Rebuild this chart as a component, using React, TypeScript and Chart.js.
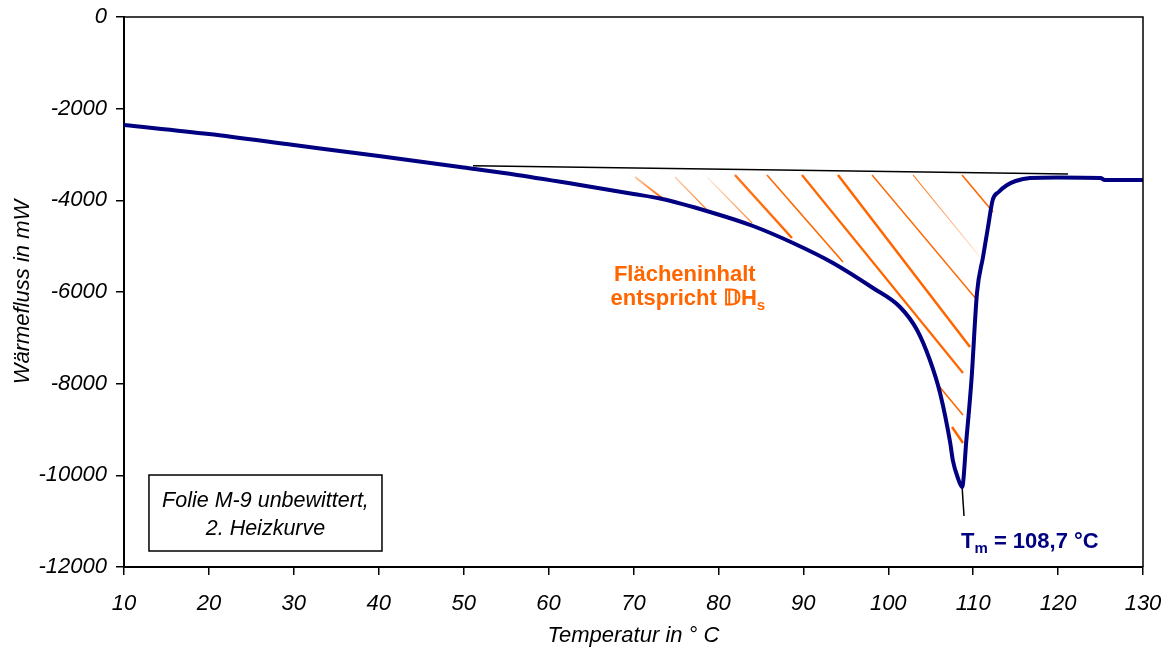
import React, { useEffect, useRef } from 'react';
import { Chart, registerables } from 'chart.js';

Chart.register(...registerables);

// DSC heating curve: temperature (°C) vs. heat flow (mW)
const temperature = [
  10, 20, 30, 40, 50, 56.3, 63.7, 70, 73.12, 79.01, 84.07, 88.78, 93.49, 98.2, 101.38,
  103.39, 104.9, 106.1, 107.3, 107.6, 108.2, 108.7, 109.2, 109.8, 110.45, 111.16,
  111.75, 112.3, 113, 114, 115, 116.7, 120, 125, 125.5, 130,
];
const heatFlow = [
  -2356, -2553, -2793, -3033, -3284, -3447, -3665, -3862, -3960, -4254, -4560,
  -4931, -5367, -5913, -6327, -6829, -7484, -8204, -9295, -9666, -10058, -10255,
  -9229, -7920, -6022, -5236, -4582, -3993, -3818, -3665, -3578, -3513, -3502,
  -3513, -3556, -3556,
];

// Interpolated baseline under the melting peak
const baselineT = [51.1, 121.17];
const baselineQ = [-3244, -3425];

// Leader from the peak minimum to the T_m label
const leaderT = [108.7, 108.92];
const leaderQ = [-10255, -10887];

// Hatch strokes filling the peak area (start/end in data units)
const hatchStartT = [70.18, 74.89, 78.66, 81.95, 85.72, 89.84, 94.08, 98.09, 102.92, 108.69, 105.86, 107.51];
const hatchStartQ = [-3491, -3491, -3491, -3447, -3447, -3447, -3447, -3447, -3447, -3447, -8029, -8945];
const hatchEndT = [73.36, 79.01, 83.96, 88.66, 94.67, 108.8, 109.63, 110.45, 110.8, 112.34, 108.8, 108.8];
const hatchEndQ = [-3949, -4276, -4495, -4822, -5345, -7767, -7200, -6174, -5236, -4255, -8684, -9295];

// Stroke look of each hatch line: [width, alpha at start, alpha at end]
const hatchLook: [number, number, number][] = [
  [2, 0.35, 1], [1.2, 0.35, 0.9], [1.2, 0.12, 0.8], [2.5, 0.9, 1], [1.6, 1, 1],
  [2.2, 1, 1], [2.5, 1, 1], [1.4, 1, 1], [1.1, 1, 0.15], [1.6, 1, 1],
  [1.6, 1, 1], [2.5, 1, 1],
];

const tempTicks = [10, 20, 30, 40, 50, 60, 70, 80, 90, 100, 110, 120, 130];
const flowTicks = [-12000, -10000, -8000, -6000, -4000, -2000, 0];

const FONT = "'Liberation Sans', Arial, Helvetica, sans-serif";
const NAVY = '#000080';
const ORANGE = '#FF6600';

const overlayPlugin = {
  id: 'dscOverlay',
  beforeDatasetsDraw(chart: any) {
    const { ctx, scales } = chart;
    const x = scales.x;
    const y = scales.y;
    ctx.save();
    ctx.lineCap = 'butt';
    for (let i = 0; i < hatchStartT.length; i++) {
      const x1 = x.getPixelForValue(hatchStartT[i]);
      const y1 = y.getPixelForValue(hatchStartQ[i]);
      const x2 = x.getPixelForValue(hatchEndT[i]);
      const y2 = y.getPixelForValue(hatchEndQ[i]);
      const [w, a1, a2] = hatchLook[i];
      const g = ctx.createLinearGradient(x1, y1, x2, y2);
      g.addColorStop(0, `rgba(255,102,0,${a1})`);
      g.addColorStop(1, `rgba(255,102,0,${a2})`);
      ctx.strokeStyle = g;
      ctx.lineWidth = w;
      ctx.beginPath();
      ctx.moveTo(x1, y1);
      ctx.lineTo(x2, y2);
      ctx.stroke();
    }
    ctx.restore();
  },
  afterDatasetsDraw(chart: any) {
    const { ctx, scales, chartArea } = chart;
    const x = scales.x;
    const y = scales.y;
    ctx.save();

    // frame around the plot
    ctx.strokeStyle = '#000';
    ctx.lineWidth = 1.5;
    ctx.beginPath();
    ctx.moveTo(chartArea.left, chartArea.top);
    ctx.lineTo(chartArea.right, chartArea.top);
    ctx.lineTo(chartArea.right, chartArea.bottom);
    ctx.stroke();

    // sample description box
    const bx1 = x.getPixelForValue(12.94);
    const bx2 = x.getPixelForValue(40.38);
    const by1 = y.getPixelForValue(-9993);
    const by2 = y.getPixelForValue(-11651);
    ctx.fillStyle = '#fff';
    ctx.fillRect(bx1, by1, bx2 - bx1, by2 - by1);
    ctx.lineWidth = 1.5;
    ctx.strokeRect(bx1, by1, bx2 - bx1, by2 - by1);
    ctx.fillStyle = '#000';
    ctx.font = `italic 21.5px ${FONT}`;
    ctx.textAlign = 'center';
    ctx.textBaseline = 'alphabetic';
    const bcx = (bx1 + bx2) / 2;
    ctx.fillText('Folie M-9 unbewittert,', bcx, y.getPixelForValue(-10698));
    ctx.fillText('2. Heizkurve', bcx, y.getPixelForValue(-11309));

    // area label
    ctx.fillStyle = ORANGE;
    ctx.font = `bold 22px ${FONT}`;
    ctx.textAlign = 'center';
    ctx.fillText('Flächeninhalt', x.getPixelForValue(76.04), y.getPixelForValue(-5760));
    const part1 = 'entspricht 𝔻H';
    const sub1 = 's';
    ctx.font = `bold 22px ${FONT}`;
    const w1 = ctx.measureText(part1).width;
    ctx.font = `bold 15px ${FONT}`;
    const ws = ctx.measureText(sub1).width;
    const c2 = x.getPixelForValue(76.4);
    const base2 = y.getPixelForValue(-6284);
    const sx = c2 - (w1 + ws) / 2;
    ctx.textAlign = 'left';
    ctx.font = `bold 22px ${FONT}`;
    ctx.fillText(part1, sx, base2);
    ctx.font = `bold 15px ${FONT}`;
    ctx.fillText(sub1, sx + w1, base2 + 5);

    // melting temperature label
    ctx.fillStyle = NAVY;
    let tx = x.getPixelForValue(108.57);
    const tb = y.getPixelForValue(-11585);
    ctx.font = `bold 22px ${FONT}`;
    ctx.fillText('T', tx, tb);
    tx += ctx.measureText('T').width;
    ctx.font = `bold 15px ${FONT}`;
    ctx.fillText('m', tx, tb + 5);
    tx += ctx.measureText('m').width;
    ctx.font = `bold 22px ${FONT}`;
    ctx.fillText(' = 108,7 °C', tx, tb);

    ctx.restore();
  },
};

export default function App() {
  const canvasRef = useRef<HTMLCanvasElement | null>(null);

  useEffect(() => {
    const canvas = canvasRef.current;
    if (!canvas) return;
    const pts = (xs: number[], ys: number[]) => xs.map((v, i) => ({ x: v, y: ys[i] }));

    const chart = new Chart(canvas, {
      type: 'line',
      data: {
        datasets: [
          {
            label: 'Basislinie',
            data: pts(baselineT, baselineQ),
            borderColor: '#000',
            borderWidth: 1.5,
            pointRadius: 0,
            tension: 0,
          },
          {
            label: 'Wärmefluss',
            data: pts(temperature, heatFlow),
            borderColor: NAVY,
            borderWidth: 4,
            pointRadius: 0,
            cubicInterpolationMode: 'monotone',
            borderJoinStyle: 'round',
          },
          {
            label: 'Tm',
            data: pts(leaderT, leaderQ),
            borderColor: '#000',
            borderWidth: 1.5,
            pointRadius: 0,
            tension: 0,
          },
        ],
      },
      options: {
        animation: false,
        responsive: false,
        maintainAspectRatio: false,
        layout: { padding: { top: 17, right: 28, left: 0, bottom: 0 } },
        plugins: {
          legend: { display: false },
          tooltip: { enabled: false },
        },
        scales: {
          x: {
            type: 'linear',
            min: 10,
            max: 130,
            afterBuildTicks: (s: any) => {
              s.ticks = tempTicks.map((v) => ({ value: v }));
            },
            afterFit: (s: any) => {
              s.height = 80;
              s.paddingLeft = 0;
              s.paddingRight = 0;
            },
            ticks: {
              autoSkip: false,
              maxRotation: 0,
              padding: 16,
              color: '#000',
              font: { family: FONT, size: 22, style: 'italic' },
              callback: (v: any) => String(v),
            },
            grid: {
              drawOnChartArea: false,
              drawTicks: true,
              tickLength: 8,
              color: '#000',
              lineWidth: 1.5,
            },
            border: { display: true, color: '#000', width: 2 },
            title: {
              display: true,
              text: 'Temperatur in ° C',
              color: '#000',
              font: { family: FONT, size: 22, style: 'italic', weight: 'normal', lineHeight: 1.0 },
              padding: { top: 0, bottom: 0 },
            },
          },
          y: {
            type: 'linear',
            min: -12000,
            max: 0,
            afterBuildTicks: (s: any) => {
              s.ticks = flowTicks.map((v) => ({ value: v }));
            },
            afterFit: (s: any) => {
              s.width = 124;
              s.paddingTop = 0;
              s.paddingBottom = 0;
            },
            ticks: {
              padding: 9,
              color: '#000',
              font: { family: FONT, size: 22, style: 'italic' },
              callback: (v: any) => String(v),
            },
            grid: {
              drawOnChartArea: false,
              drawTicks: true,
              tickLength: 8,
              color: '#000',
              lineWidth: 1.5,
            },
            border: { display: true, color: '#000', width: 2 },
            title: {
              display: true,
              text: 'Wärmefluss in mW',
              color: '#000',
              font: { family: FONT, size: 22, style: 'italic', weight: 'normal' },
              padding: { top: 10, bottom: 0 },
            },
          },
        },
      },
      plugins: [overlayPlugin],
    } as any);

    return () => chart.destroy();
  }, []);

  return (
    <div style={{ position: 'absolute', left: 0, top: 0, width: 1171, height: 647, background: '#fff' }}>
      <canvas ref={canvasRef} width={1171} height={647} style={{ display: 'block' }} />
    </div>
  );
}
